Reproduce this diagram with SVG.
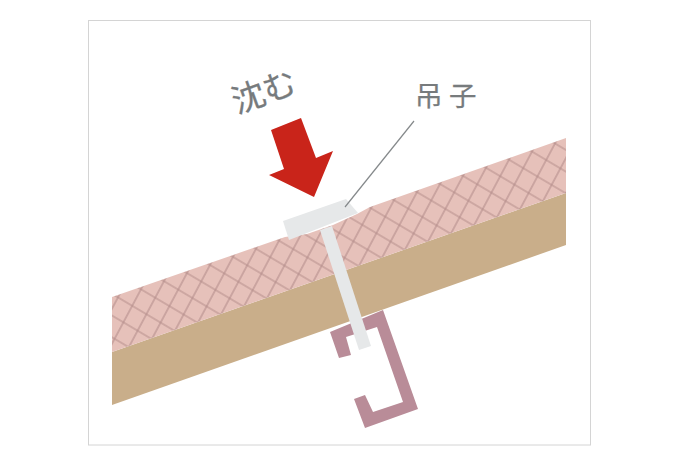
<svg xmlns="http://www.w3.org/2000/svg" width="680" height="464" viewBox="0 0 680 464">
  <style>
    .label { font-family: "Noto Sans CJK JP", "Noto Sans", sans-serif; fill: #777b7d; stroke: #777b7d; stroke-width: 0.25; }
    .hatch-line { stroke: #b48d8b; stroke-width: 1.3; fill: none; }
  </style>
  <defs>
    <!-- lattice cell whose diagonal runs along the roof slope -->
    <pattern id="crosshatch" width="20" height="20" patternUnits="userSpaceOnUse" patternTransform="matrix(.71 .42 .44 -.825 555 143.5)">
      <rect width="20" height="20" fill="#e6c1ba"/>
      <path class="hatch-line" d="M0 0H20M0 20H20M0 0V20M20 0V20"/>
    </pattern>
  </defs>
  <rect width="680" height="464" fill="#fff"/>
  <rect x="88.5" y="20.5" width="502" height="424.5" fill="#fff" stroke="#d4d4d4"/>

  <g id="bracket">
    <path fill="#b98c98" d="M330 332L383 310L418 409L365 428L354 399L365 395L373 412L403 402L377 327L346 337L351 355L339 358Z"/>
  </g>
  <g id="roof-base">
    <path fill="#c9ae8a" d="M112 352L566 193V245L112 405Z"/>
  </g>
  <g id="roof-insulation">
    <path fill="url(#crosshatch)" d="M112 297L285 237L307 234L333 225L357 214L370 207L566 138V193L112 352Z"/>
  </g>
  <g id="hanger">
    <path fill="#e6e8e9" d="M320 230L332 226L371 346L359 350Z"/>
    <path fill="#e6e8e9" d="M283 221L346 199L358 213L289 240Z"/>
  </g>
  <g id="connectors">
    <path d="M414 121L345 207" fill="none" stroke="#85898b" stroke-width="1.2"/>
  </g>
  <g id="sink-arrow">
    <path fill="#c9241a" d="M271 130L301 118L316 158L333 151L314 197L269 175L284 169Z"/>
    <text class="label" font-size="33" transform="translate(237 114) rotate(-20)">沈む</text>
  </g>
  <g id="hanger-label">
    <text class="label" font-size="27.5" letter-spacing="6.5" x="415" y="106">吊子</text>
  </g>
</svg>
